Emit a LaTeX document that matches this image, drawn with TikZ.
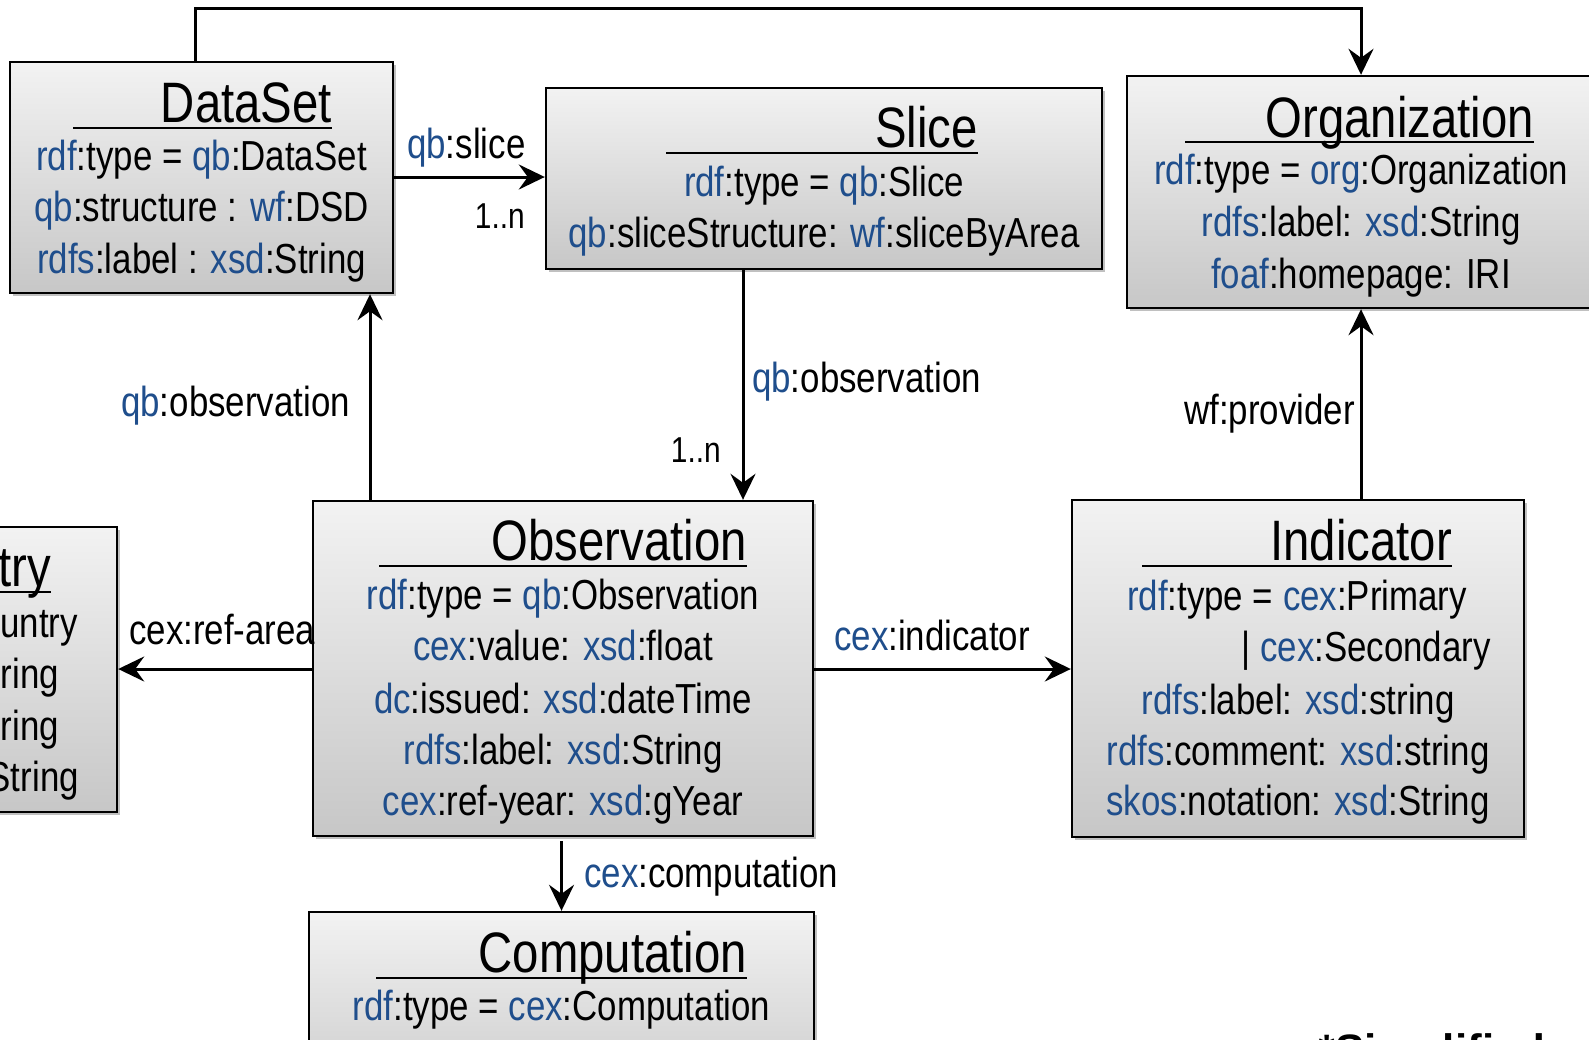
\documentclass[tikz,border=0pt]{standalone}
\usepackage{fontspec}
\setmainfont[FakeStretch=0.83]{Liberation Sans}
\newfontfamily\boldplain[BoldFont={Liberation Sans Bold}]{Liberation Sans}
\usetikzlibrary{arrows.meta,shadows}
\definecolor{qblue}{RGB}{31,78,140}
\newcommand\pf[1]{\textcolor{qblue}{#1}}
\tikzset{
  umlbox/.style={draw=black, line width=2.4pt, top color=black!5, bottom color=black!22,
    drop shadow={shadow xshift=3pt, shadow yshift=-3pt, opacity=0.35, fill=black!70}, inner sep=0pt},
  body/.style={font=\fontsize{42}{50}\selectfont, anchor=base, inner sep=0pt},
  ttl/.style={font=\fontsize{57}{60}\selectfont, anchor=base east, inner sep=0pt},
  elab/.style={font=\fontsize{42}{50}\selectfont, inner sep=0pt},
  small/.style={font=\fontsize{36}{42}\selectfont, inner sep=0pt},
  arr/.style={line width=3pt, -{Stealth[length=26pt,width=25pt,inset=9pt]}},
  uline/.style={line width=2.8pt},
}
\begin{document}
\begin{tikzpicture}[x=1pt,y=-1pt]
\useasboundingbox (0,0) rectangle (1589,1039);
\fill[white] (0,0) rectangle (1589,1039);
\clip (0,0) rectangle (1589,1039);

% ---------- boxes ----------
\node[umlbox, minimum width=383pt, minimum height=231pt] (ds) at (201.5,177.5) {};
\node[umlbox, minimum width=556pt, minimum height=181pt] (sl) at (824,178.5) {};
\node[umlbox, minimum width=468pt, minimum height=232pt] (org) at (1361,192) {};
\node[umlbox, minimum width=500pt, minimum height=335pt] (ob) at (563,668.5) {};
\node[umlbox, minimum width=452pt, minimum height=337pt] (ind) at (1298,668.5) {};
\node[umlbox, minimum width=317pt, minimum height=285pt] (co) at (-41.5,669.5) {};
\node[umlbox, minimum width=505pt, minimum height=208pt] (comp) at (561.5,1016) {};

% ---------- DataSet ----------
\node[ttl] (dsT) at (332,122) {DataSet};
\draw[uline] (73,128) -- (332,128);
\node[body] (ds1) at (201.5,170) {\pf{rdf}:type = \pf{qb}:DataSet};
\node[body] (ds2) at (201.5,221) {\pf{qb}:structure : \pf{wf}:DSD};
\node[body] (ds3) at (201.5,273) {\pf{rdfs}:label : \pf{xsd}:String};

% ---------- Slice ----------
\node[ttl] (slT) at (978,147) {Slice};
\draw[uline] (666,153) -- (978,153);
\node[body] (sl1) at (824,196) {\pf{rdf}:type = \pf{qb}:Slice};
\node[body] (sl2) at (824,247) {\pf{qb}:sliceStructure: \pf{wf}:sliceByArea};

% ---------- Organization ----------
\node[ttl] (orgT) at (1534,137) {Organization};
\draw[uline] (1185,142) -- (1534,142);
\node[body] (org1) at (1361,184) {\pf{rdf}:type = \pf{org}:Organization};
\node[body] (org2) at (1361,236) {\pf{rdfs}:label: \pf{xsd}:String};
\node[body] (org3) at (1361,288) {\pf{foaf}:homepage: IRI};

% ---------- Observation ----------
\node[ttl] (obT) at (747,560) {Observation};
\draw[uline] (379,566) -- (747,566);
\node[body] (ob1) at (563,609) {\pf{rdf}:type = \pf{qb}:Observation};
\node[body] (ob2) at (563,660) {\pf{cex}:value: \pf{xsd}:float};
\node[body] (ob3) at (563,713) {\pf{dc}:issued: \pf{xsd}:dateTime};
\node[body] (ob4) at (563,764) {\pf{rdfs}:label: \pf{xsd}:String};
\node[body] (ob5) at (563,815) {\pf{cex}:ref-year: \pf{xsd}:gYear};

% ---------- Indicator ----------
\node[ttl] (indT) at (1452,560) {Indicator};
\draw[uline] (1142,566) -- (1452,566);
\node[body] (ind1) at (1297,610) {\pf{rdf}:type = \pf{cex}:Primary};
\node[body, anchor=base east] (ind2) at (1491,661) {| \pf{cex}:Secondary};
\node[body] (ind3) at (1298,714) {\pf{rdfs}:label: \pf{xsd}:string};
\node[body] (ind4) at (1298,765) {\pf{rdfs}:comment: \pf{xsd}:string};
\node[body] (ind5) at (1298,815) {\pf{skos}:notation: \pf{xsd}:String};

% ---------- Country (cut off) ----------
\node[ttl] (coT) at (51,586) {try};
\draw[uline] (-10,592) -- (51,592);
\node[body, anchor=base east] (co1) at (78,637) {untry};
\node[body, anchor=base east] (co2) at (59,688) {tring};
\node[body, anchor=base east] (co3) at (59,740) {tring};
\node[body, anchor=base east] (co4) at (79,791) {String};

% ---------- Computation ----------
\node[ttl] (compT) at (747,972) {Computation};
\draw[uline] (376,978) -- (747,978);
\node[body] (comp1) at (561.5,1020) {\pf{rdf}:type = \pf{cex}:Computation};

% ---------- connectors ----------
\coordinate (topL) at (195,8);
\draw[arr] (ds.north -| topL) -- (topL) -| (org.north);
\draw[arr] (ds.east |- 0,177) -- (sl.west |- 0,177);
\draw[arr] (sl.south -| 743,0) -- (ob.north -| 743,0);
\draw[arr] (ob.north -| 370,0) -- (ds.south -| 370,0);
\draw[arr] (ob.west |- 0,669) -- (co.east |- 0,669);
\draw[arr] (ob.east |- 0,669) -- (ind.west |- 0,669);
\draw[arr] (ind.north -| org.south) -- (org.south);
\coordinate (compS) at (561.5,841);
\draw[arr] (compS) -- (comp.north);

% ---------- connector labels ----------
\node[elab, anchor=base west] (lslice) at (407,158) {\pf{qb}:slice};
\node[small, anchor=base east] (ln1) at (525,228) {1..n};
\node[elab, anchor=base west] (lobs1) at (752,392) {\pf{qb}:observation};
\node[small, anchor=base east] (ln2) at (721,462) {1..n};
\node[elab, anchor=base west] (lobs2) at (121,416) {\pf{qb}:observation};
\node[elab, anchor=base west] (lref) at (129,644) {cex:ref-area};
\node[elab, anchor=base west] (lind) at (834,650) {\pf{cex}:indicator};
\node[elab, anchor=base east] (lprov) at (1355,424) {wf:provider};
\node[elab, anchor=base west] (lcomp) at (584,887) {\pf{cex}:computation};

% ---------- note ----------
\node[font=\boldplain\bfseries\fontsize{44}{50}\selectfont, anchor=north west, inner sep=0pt] (note) at (1318,1033) {*Simplified};
\end{tikzpicture}
\end{document}
